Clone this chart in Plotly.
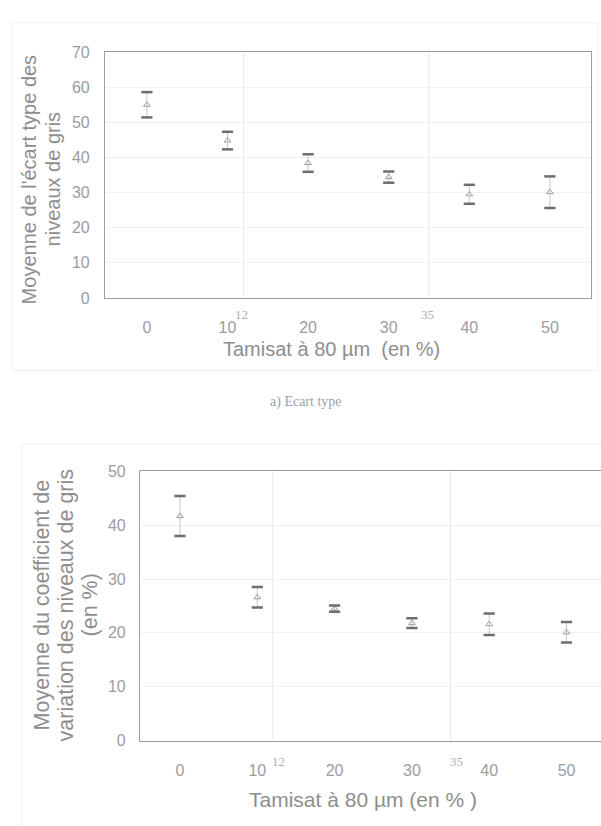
import plotly.graph_objects as go

# Tamisat à 80 µm (en %)
pct = [0, 10, 20, 30, 40, 50]

# a) Moyenne de l'écart type des niveaux de gris (moyenne ± écart)
ecart_mean = [55.0, 44.8, 38.4, 34.4, 29.5, 30.1]
ecart_err = [3.6, 2.5, 2.5, 1.6, 2.7, 4.5]

# b) Moyenne du coefficient de variation des niveaux de gris (en %)
cv_mean = [41.7, 26.6, 24.5, 21.8, 21.6, 20.1]
cv_err = [3.7, 1.9, 0.6, 0.9, 2.0, 1.9]

# repères verticaux
ref_x = [12, 35]
ref_labels = ["12", "35"]

x_ticks = [0, 10, 20, 30, 40, 50]
y1_ticks = [0, 10, 20, 30, 40, 50, 60, 70]
y2_ticks = [0, 10, 20, 30, 40, 50]

W, H = 601, 826
TXT = "#9c9c9c"
TITLE = "#8e8e8e"
CAP = "#6e6e6e"
SANS = "Liberation Sans, Arial, sans-serif"
SERIF = "Liberation Serif, Times New Roman, serif"


def px(x):
    return x / W


def py(y):
    return 1 - y / H


fig = go.Figure()


def add_series(means, errs, xa, ya):
    # thin stem between the two caps
    fig.add_trace(go.Scatter(
        x=pct, y=means, mode="markers",
        marker=dict(symbol="triangle-up-open", size=6, color="#a0a0a0",
                    line=dict(width=1, color="#a0a0a0")),
        error_y=dict(type="data", array=errs, visible=True, thickness=1,
                     width=0, color="#c8c8c8"),
        xaxis=xa, yaxis=ya, showlegend=False, hoverinfo="skip"))
    # thick caps at mean ± error
    lows = [m - e for m, e in zip(means, errs)]
    highs = [m + e for m, e in zip(means, errs)]
    fig.add_trace(go.Scatter(
        x=pct + pct, y=highs + lows, mode="markers",
        marker=dict(symbol="line-ew", size=8, color=CAP,
                    line=dict(width=2.5, color=CAP)),
        xaxis=xa, yaxis=ya, showlegend=False, hoverinfo="skip"))


add_series(ecart_mean, ecart_err, "x", "y")
add_series(cv_mean, cv_err, "x2", "y2")

axis_common = dict(
    showline=True, linecolor="#9c9c9c", linewidth=1.2,
    ticks="", zeroline=False,
    tickfont=dict(family=SANS, size=16, color=TXT),
)

fig.update_layout(
    width=W, height=H,
    margin=dict(l=0, r=0, t=0, b=0),
    paper_bgcolor="white", plot_bgcolor="white",
    xaxis=dict(domain=[px(105), px(591)], range=[-5.2, 55.1],
               tickvals=x_ticks, showgrid=False, mirror=True,
               ticklabelstandoff=15, anchor="y", **axis_common),
    yaxis=dict(domain=[py(296), py(45)], range=[0, 70],
               tickvals=y1_ticks, showgrid=True, gridcolor="#f1f1f1",
               mirror=True, ticklabelstandoff=11, anchor="x", **axis_common),
    xaxis2=dict(domain=[px(140), 1.0], range=[-5.17, 54.46],
                tickvals=x_ticks, showgrid=False, mirror=True,
                ticklabelstandoff=15, anchor="y2", **axis_common),
    yaxis2=dict(domain=[py(748), py(473)], range=[0, 50],
                tickvals=y2_ticks, showgrid=True, gridcolor="#f1f1f1",
                mirror=False, ticklabelstandoff=10, anchor="x2", **axis_common),
)

shapes = []
annotations = []


def label(x, y, text, size, family=SANS, color=TITLE, xref="paper", **kw):
    annotations.append(dict(
        x=x, y=py(y), xref=xref, yref="paper", text=text, showarrow=False,
        xanchor="center", yanchor="middle",
        font=dict(family=family, size=size, color=color), **kw))


# vertical reference lines and their labels
for xr, lab in zip(ref_x, ref_labels):
    shapes.append(dict(type="line", xref="x", yref="y domain", x0=xr, x1=xr,
                       y0=0, y1=1, line=dict(color="#e8e8e8", width=1)))
    shapes.append(dict(type="line", xref="x2", yref="y2 domain", x0=xr, x1=xr,
                       y0=0, y1=1, line=dict(color="#e8e8e8", width=1)))
    label(xr, 313, lab, 13, family=SERIF, color="#b0b0b0", xref="x", xshift=-2)
    label(xr, 769, lab, 13, family=SERIF, color="#b0b0b0", xref="x2", xshift=6)

# faint chart-area frames
shapes.append(dict(type="rect", xref="paper", yref="paper",
                   x0=px(12), x1=px(598), y0=py(370), y1=py(15),
                   line=dict(color="#efefef", width=1)))
shapes.append(dict(type="rect", xref="paper", yref="paper",
                   x0=px(22), x1=px(640), y0=py(840), y1=py(445),
                   line=dict(color="#efefef", width=1)))

# rotated y-axis titles, one annotation per line
for t, xc in zip(["Moyenne de l'écart type des", "niveaux de gris"], [29, 53]):
    label(px(xc), 175, t, 20, textangle=-90)
for t, xc in zip(["Moyenne du coefficient de", "variation des niveaux de gris",
                  "(en %)"], [42, 66, 90]):
    label(px(xc), 610, t, 21.5, textangle=-90)

label(px(331), 348, "Tamisat à 80 µm  (en %)", 20)
label(px(306), 402, "a) Ecart type", 14, family=SERIF, color="#a0a0a0")
label(px(363), 808, "Tamisat à 80 µm (en % )", 21)

fig.update_layout(shapes=shapes, annotations=annotations)
fig.write_html("out.html")
